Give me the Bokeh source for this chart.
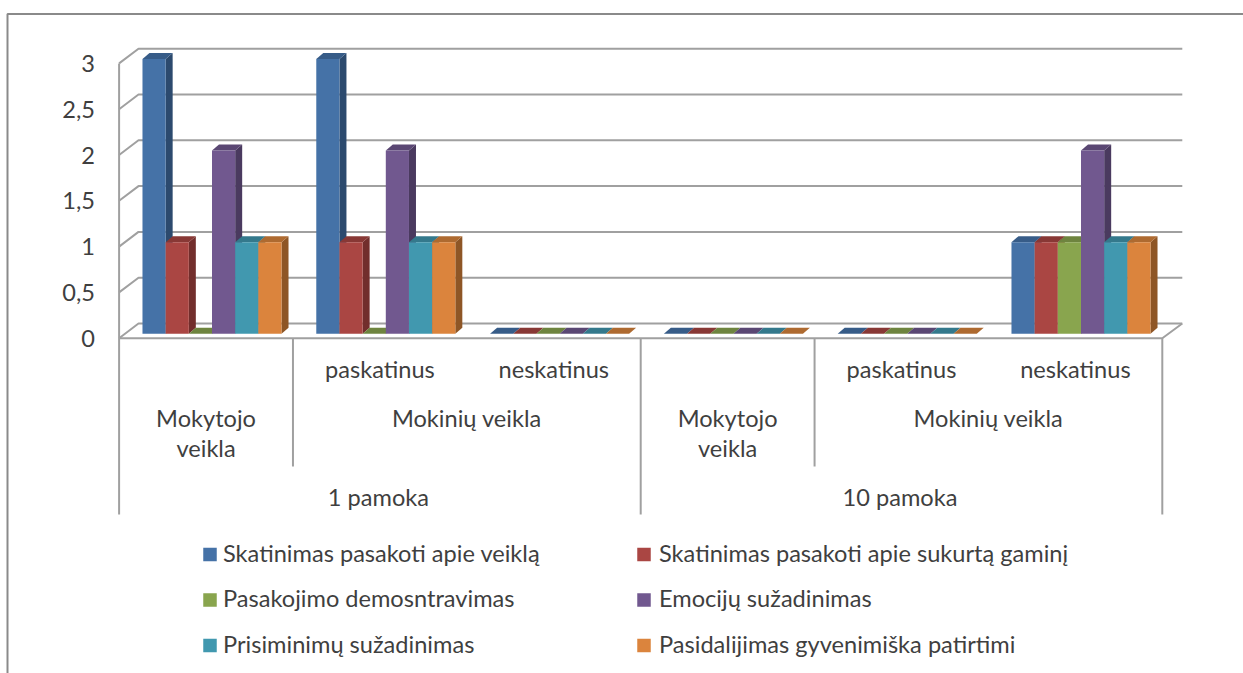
from bokeh.plotting import figure
from bokeh.embed import file_html
from bokeh.resources import INLINE
from bokeh.core.properties import value

series_names = ["Skatinimas pasakoti apie veiklą", "Skatinimas pasakoti apie sukurtą gaminį",
                "Pasakojimo demosntravimas", "Emocijų sužadinimas",
                "Prisiminimų sužadinimas", "Pasidalijimas gyvenimiška patirtimi"]
skatinimas_veikla = [3, 3, 0, 0, 0, 1]
skatinimas_gaminys = [1, 1, 0, 0, 0, 1]
demonstravimas = [0, 0, 0, 0, 0, 1]
emocijos = [2, 2, 0, 0, 0, 2]
prisiminimai = [1, 1, 0, 0, 0, 1]
pasidalijimas = [1, 1, 0, 0, 0, 1]
all_series = [skatinimas_veikla, skatinimas_gaminys, demonstravimas, emocijos, prisiminimai, pasidalijimas]

front_colors = ["#4572A7", "#AA4643", "#89A54E", "#71588F", "#4198AF", "#DB843D"]
side_colors = ["#2C4A6E", "#722E2C", "#5A6D33", "#4A3A5F", "#2A6475", "#8E5626"]
top_colors = ["#375C88", "#883835", "#6E843F", "#5A4773", "#34798C", "#AE6A30"]

tick_values = [0, 0.5, 1, 1.5, 2, 2.5, 3]
tick_labels = ["0", "0,5", "1", "1,5", "2", "2,5", "3"]
level1_labels = [(1, "paskatinus"), (2, "neskatinus"), (4, "paskatinus"), (5, "neskatinus")]
level2_labels = [(0, ["Mokytojo", "veikla"]), (1.5, ["Mokinių veikla"]), (3, ["Mokytojo", "veikla"]), (4.5, ["Mokinių veikla"])]
level3_labels = [(1, "1 pamoka"), (4, "10 pamoka")]

# pixel layout of the picture
W, H = 1243, 673
GROUP_PX, UNIT_PX = 173.8, 91.6
X0_PX, Y0_PX = 124.6, 333.3          # bar plane origin
WALL_FRONT_X, WALL_BACK_X, RIGHT_FRONT_X, RIGHT_BACK_X = 118.6, 138.0, 1161.8, 1181.8
FRONT_DY, BACK_DY = 4.4, -10.3       # plane offset of the value 0 relative to the bars
BAR_W = 1 / 7.5
DX, DY = 7.0 / GROUP_PX, 6.0 / UNIT_PX
LINE = "#A0A0A0"
LW = 2
FRAME = "#8A8A8A"
TXT = "#3F3F3F"
FONT = value("Lato")
SIZE = "23.6px"


def xp(px):
    return (px - X0_PX) / GROUP_PX


def yp(py):
    return (Y0_PX - py) / UNIT_PX


p = figure(width=W, height=H, output_backend="svg", toolbar_location=None,
           x_range=(xp(0), xp(W)), y_range=(yp(H), yp(0)),
           min_border=0, outline_line_color=None, background_fill_color="white",
           margin=(0, 0, 0, 0))
p.axis.visible = False
p.grid.visible = False

# outer frame of the chart
p.line([xp(7), xp(7), xp(W)], [yp(H), yp(13.5), yp(13.5)], line_color=FRAME, line_width=2)

# back wall, side wall and floor
for v in tick_values:
    back = yp(Y0_PX + BACK_DY - v * UNIT_PX)
    front = yp(Y0_PX + FRONT_DY - v * UNIT_PX)
    p.line([xp(WALL_FRONT_X), xp(WALL_BACK_X), xp(RIGHT_BACK_X)], [front, back, back],
           line_color=LINE, line_width=LW)
top_front = yp(Y0_PX + FRONT_DY - 3 * UNIT_PX)
zero_front = yp(Y0_PX + FRONT_DY)
zero_back = yp(Y0_PX + BACK_DY)
p.line([xp(WALL_FRONT_X), xp(WALL_FRONT_X)], [top_front, yp(514)], line_color=LINE, line_width=LW)
p.line([xp(WALL_FRONT_X), xp(RIGHT_FRONT_X), xp(RIGHT_BACK_X)], [zero_front, zero_front, zero_back],
       line_color=LINE, line_width=LW)

# category axis separators
p.line([xp(RIGHT_FRONT_X), xp(RIGHT_FRONT_X)], [zero_front, yp(514)], line_color=LINE, line_width=LW)
step = (RIGHT_FRONT_X - WALL_FRONT_X) / 6
for k, bottom in [(1, 466), (3, 514), (4, 466)]:
    sx = WALL_FRONT_X + k * step
    p.line([xp(sx), xp(sx)], [zero_front, yp(bottom)], line_color=LINE, line_width=LW)

# 3D columns: drawn through the value scale
for j, vals in enumerate(all_series):
    lefts = [g + (0.75 + j) * BAR_W for g in range(6)]
    rights = [l + BAR_W for l in lefts]
    side_x = [[r, r + DX, r + DX, r] for r, v in zip(rights, vals)]
    side_y = [[0, DY, v + DY, v] for v in vals]
    top_x = [[l, l + DX, r + DX, r] for l, r in zip(lefts, rights)]
    top_y = [[v, v + DY, v + DY, v] for v in vals]
    nonzero = [g for g in range(6) if vals[g] > 0]
    p.patches([side_x[g] for g in nonzero], [side_y[g] for g in nonzero],
              fill_color=side_colors[j], line_color=None)
    p.patches(top_x, top_y, fill_color=top_colors[j], line_color=None)
    p.vbar(x=[l + BAR_W / 2 for l in lefts], top=vals, bottom=0, width=BAR_W,
           fill_color=front_colors[j], line_color=None)

common = dict(text_font=FONT, text_font_size=SIZE, text_color=TXT, text_baseline="middle")

# value axis labels
p.text(x=[xp(94.5)] * len(tick_values), y=[v + yp(Y0_PX + 4.5) for v in tick_values],
       text=tick_labels, text_align="right", **common)

# hierarchical category labels
axis_x = lambda c: xp(WALL_FRONT_X + (c + 0.5) * step)
p.text(x=[axis_x(c) for c, _ in level1_labels], y=[yp(368)] * len(level1_labels),
       text=[t for _, t in level1_labels], text_align="center", **common)
for c, lines in level2_labels:
    rows = [417, 447] if len(lines) == 2 else [417]
    p.text(x=[axis_x(c)] * len(lines), y=[yp(r) for r in rows], text=lines, text_align="center", **common)
p.text(x=[axis_x(c) - 1.5 / GROUP_PX for c, _ in level3_labels], y=[yp(496)] * len(level3_labels),
       text=[t for _, t in level3_labels], text_align="center", **common)

# legend
leg_x = [209.5, 643.5, 209.5, 643.5, 209.5, 643.5]
leg_y = [554, 554, 599.5, 599.5, 645, 645]
text_x = [222.5, 658.5, 222.5, 658.5, 222.5, 658.5]
p.rect(x=[xp(v) for v in leg_x], y=[yp(v) for v in leg_y], width=13.5 / GROUP_PX, height=13.5 / UNIT_PX,
       fill_color=front_colors, line_color=None)
p.text(x=[xp(v) for v in text_x], y=[yp(v - 2) for v in leg_y], text=series_names,
       text_align="left", **common)

open("out.html", "w").write(file_html(p, INLINE))
